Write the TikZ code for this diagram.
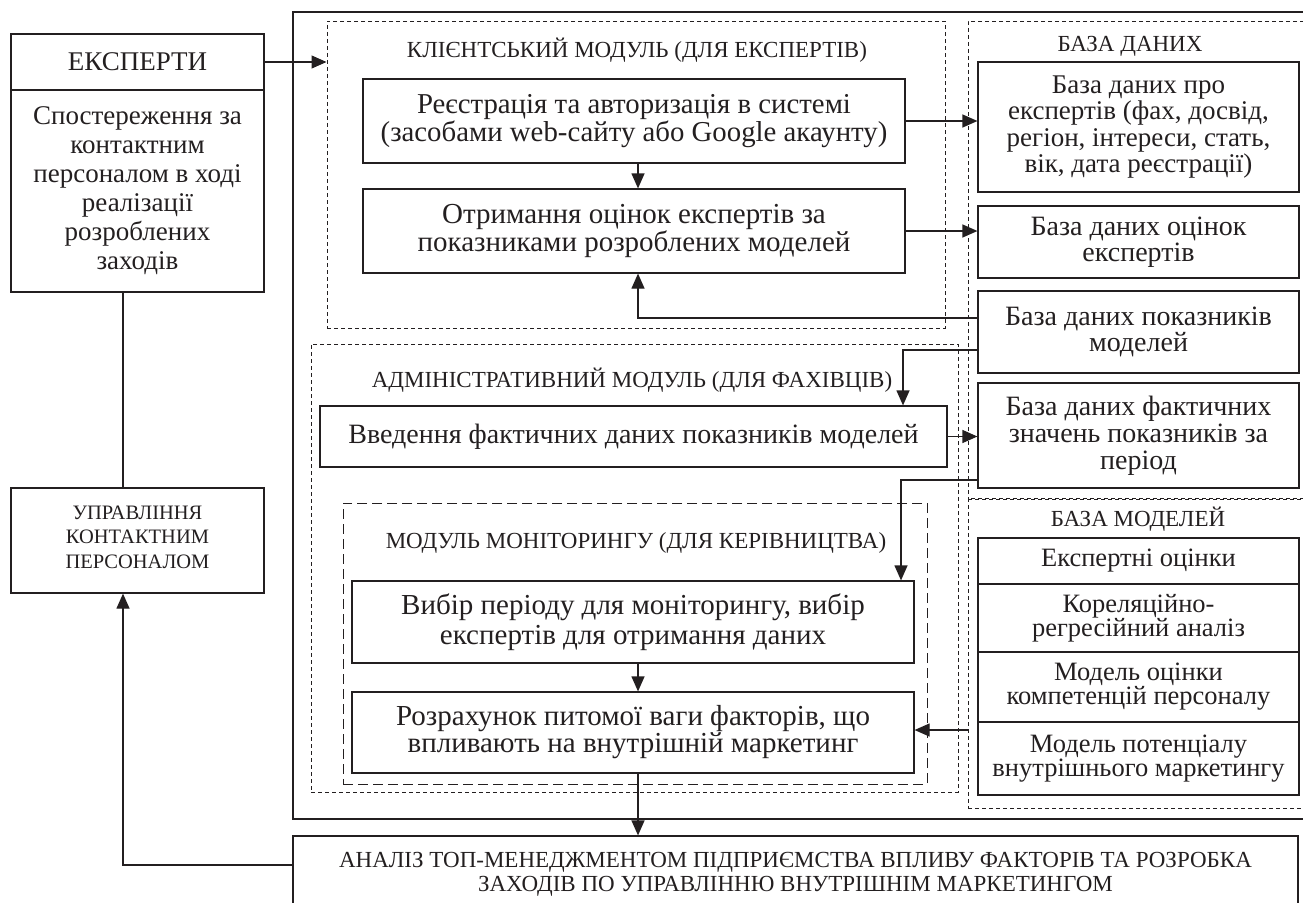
\documentclass[tikz,border=0pt]{standalone}
\usepackage{fontspec}
\setmainfont{Liberation Serif}
\usetikzlibrary{arrows.meta,calc}
\definecolor{ink}{RGB}{35,31,32}
\tikzset{
  box/.style={draw=ink, line width=1.2pt, rectangle, inner sep=0pt, align=center, text=ink},
  dsh/.style={draw=ink, line width=1pt, dash pattern=on 4pt off 3pt, rectangle, inner sep=0pt},
  dshlong/.style={draw=ink, line width=1pt, dash pattern=on 10pt off 5pt, rectangle, inner sep=0pt},
  ttl/.style={inner sep=0pt, align=center, text=ink, font=\fontsize{23}{25}\selectfont},
  arr/.style={draw=ink, line width=1.2pt, -{Triangle[length=15pt,width=13pt]}},
  ln/.style={draw=ink, line width=1.2pt},
}
\begin{document}
\begin{tikzpicture}[x=1pt,y=-1pt]
\useasboundingbox (0,0) rectangle (1303,902);

% outer frame
\node[box, minimum width=1017pt, minimum height=807pt] (frame) at (801.5,415.5) {};

% experts
\node[box, minimum width=253pt, minimum height=56pt, font=\fontsize{27}{27}\selectfont] (expt) at (137.5,62) {ЕКСПЕРТИ};
\node[box, minimum width=253pt, minimum height=202pt, font=\fontsize{27}{29}\selectfont] (expb) at (137.5,191) {Спостереження за\\контактним\\персоналом в ході\\реалізації\\розроблених\\заходів};
\node[box, minimum width=253pt, minimum height=105pt] (upr) at (137.5,540.5) {};
\node[inner sep=0pt, align=center, text=ink, font=\fontsize{20.5}{24.5}\selectfont] (uprt) at (137.5,537) {УПРАВЛІННЯ\\КОНТАКТНИМ\\ПЕРСОНАЛОМ};

% bottom box
\node[box, minimum width=1005pt, minimum height=80pt] (bot) at (795.5,876) {};
\node[ttl] (bott1) at (795.5,862) {АНАЛІЗ ТОП-МЕНЕДЖМЕНТОМ ПІДПРИЄМСТВА ВПЛИВУ ФАКТОРІВ ТА РОЗРОБКА};
\node[ttl] (bott2) at (795.5,886) {ЗАХОДІВ ПО УПРАВЛІННЮ ВНУТРІШНІМ МАРКЕТИНГОМ};

% client module
\node[dsh, minimum width=618pt, minimum height=307pt] (client) at (636,174.5) {};
\node[ttl] (clientt) at (637,50) {КЛІЄНТСЬКИЙ МОДУЛЬ (ДЛЯ ЕКСПЕРТІВ)};
\node[box, minimum width=542pt, minimum height=84pt, font=\fontsize{28.8}{24}\selectfont] (reg) at (634,121) {Реєстрація та авторизація в системі\\(засобами web-сайту або Google акаунту)};
\node[box, minimum width=542pt, minimum height=84pt, font=\fontsize{29}{28}\selectfont] (otr) at (634,231) {Отримання оцінок експертів за\\показниками розроблених моделей};

% database
\node[dsh, minimum width=342pt, minimum height=478pt] (db) at (1139,260) {};
\node[ttl] (dbt) at (1130,46) {БАЗА ДАНИХ};
\node[box, minimum width=321pt, minimum height=130pt, font=\fontsize{27}{26.5}\selectfont] (db1) at (1138.5,127) {База даних про\\експертів (фах, досвід,\\регіон, інтереси, стать,\\вік, дата реєстрації)};
\node[box, minimum width=321pt, minimum height=72pt, font=\fontsize{28}{26}\selectfont] (db2) at (1138.5,242) {База даних оцінок\\експертів};
\node[box, minimum width=321pt, minimum height=82pt, font=\fontsize{28}{26}\selectfont] (db3) at (1138.5,332) {База даних показників\\моделей};
\node[box, minimum width=321pt, minimum height=105pt, font=\fontsize{28}{27}\selectfont] (db4) at (1138.5,435.5) {База даних фактичних\\значень показників за\\період};

% admin module
\node[dsh, minimum width=647pt, minimum height=448pt] (adm) at (634.5,568) {};
\node[ttl] (admt) at (632,380) {АДМІНІСТРАТИВНИЙ МОДУЛЬ (ДЛЯ ФАХІВЦІВ)};
\node[box, minimum width=627pt, minimum height=61pt, font=\fontsize{28}{28}\selectfont] (vved) at (633.5,436.5) {Введення фактичних даних показників моделей};

% monitoring module
\node[dshlong, minimum width=584pt, minimum height=281pt] (mon) at (635,643.5) {};
\node[ttl] (mont) at (636,543) {МОДУЛЬ МОНІТОРИНГУ (ДЛЯ КЕРІВНИЦТВА)};
\node[box, minimum width=562pt, minimum height=82pt, font=\fontsize{29}{30}\selectfont] (vyb) at (633,622) {Вибір періоду для моніторингу, вибір\\експертів для отримання даних};
\node[box, minimum width=562pt, minimum height=81pt, font=\fontsize{29}{27}\selectfont] (roz) at (633,732.5) {Розрахунок питомої ваги факторів, що\\впливають на внутрішній маркетинг};

% model base
\node[dsh, minimum width=342pt, minimum height=310pt] (bm) at (1139,653) {};
\node[ttl] (bmt) at (1138,519) {БАЗА МОДЕЛЕЙ};
\node[box, minimum width=321pt, minimum height=46pt, font=\fontsize{26.5}{24}\selectfont] (em1) at (1138.5,561) {Експертні оцінки};
\node[box, minimum width=321pt, minimum height=68pt, font=\fontsize{26.5}{24}\selectfont] (em2) at (1138.5,618) {Кореляційно-\\регресійний аналіз};
\node[box, minimum width=321pt, minimum height=70pt, font=\fontsize{26.5}{24}\selectfont] (em3) at (1138.5,687) {Модель оцінки\\компетенцій персоналу};
\node[box, minimum width=321pt, minimum height=73pt, font=\fontsize{26.5}{24}\selectfont] (em4) at (1138.5,758.5) {Модель потенціалу\\внутрішнього маркетингу};

% helper coordinates
\coordinate (lx) at (123,0);
\coordinate (ly) at (0,865);
\coordinate (ax) at (638,0);
\coordinate (y318) at (0,318);
\coordinate (y350) at (0,350);
\coordinate (x903) at (903,0);
\coordinate (y480) at (0,480);
\coordinate (x901) at (901,0);
\coordinate (y730) at (0,730);

% connectors
\draw[arr] (expt.east) -- (expt.east -| client.west);
\draw[ln] (expb.south -| lx) -- (upr.north -| lx);
\draw[arr] (bot.west |- ly) -| (upr.south -| lx);
\draw[arr] (reg.south -| ax) -- (otr.north -| ax);
\draw[arr] (reg.east) -- (reg.east -| db1.west);
\draw[arr] (otr.east) -- (otr.east -| db2.west);
\draw[arr] (db3.west |- y318) -| (otr.south -| ax);
\draw[arr] (db3.west |- y350) -| (vved.north -| x903);
\draw[arr] (vved.east) -- (vved.east -| db4.west);
\draw[arr] (db4.west |- y480) -| (vyb.north -| x901);
\draw[arr] (vyb.south -| ax) -- (roz.north -| ax);
\draw[arr] (bm.west |- y730) -- (roz.east |- y730);
\draw[arr] (roz.south -| ax) -- (bot.north -| ax);
\end{tikzpicture}
\end{document}
